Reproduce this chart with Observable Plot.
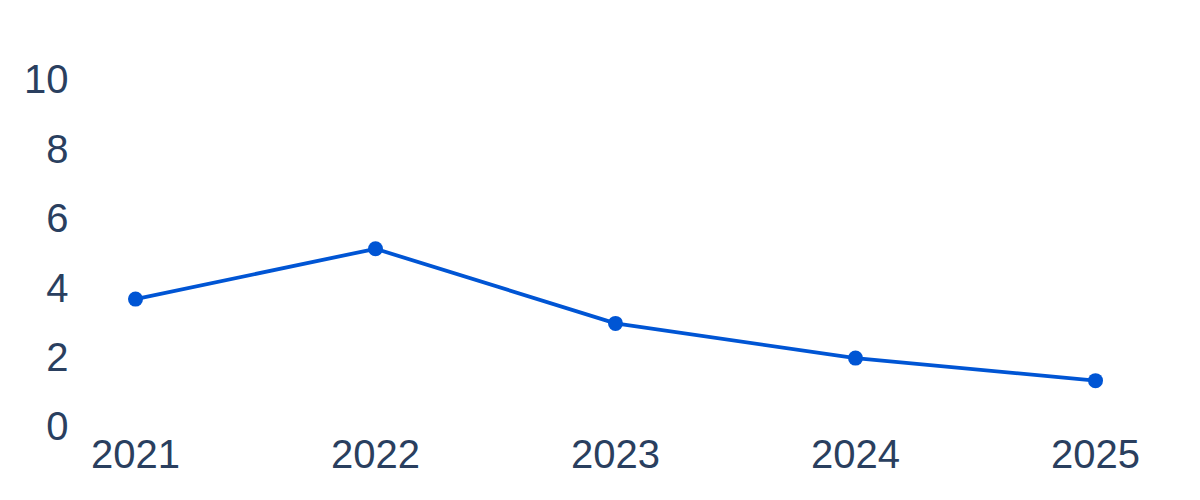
<!DOCTYPE html>
<html>
<head>
<meta charset="utf-8">
<script src="https://cdn.jsdelivr.net/npm/d3@7"></script>
<script src="https://cdn.jsdelivr.net/npm/@observablehq/plot@0.6"></script>
<style>
  html, body { margin: 0; padding: 0; background: #fff; }
</style>
</head>
<body>
<div id="chart"></div>
<script>
const years = ["2021", "2022", "2023", "2024", "2025"];
const values = [3.7, 5.15, 3.0, 2.0, 1.35];
const yTicks = [0, 2, 4, 6, 8, 10];

const data = years.map((year, i) => ({year, value: values[i]}));

const chart = Plot.plot({
  width: 1200,
  height: 500,
  marginLeft: 134,
  marginRight: 105,
  marginTop: 80,
  marginBottom: 73,
  style: {fontFamily: "'Liberation Sans', Arial, sans-serif", fontSize: "40px", color: "#2a3f5f", background: "#fff"},
  x: {type: "point", domain: years, padding: 0, label: null},
  y: {domain: [0, 10], label: null},
  marks: [
    Plot.axisY({ticks: yTicks, tickSize: 0, tickPadding: 66, label: null, fontSize: 40, fill: "#2a3f5f"}),
    Plot.axisX({tickSize: 0, tickPadding: 12, label: null, fontSize: 40, fill: "#2a3f5f"}),
    Plot.line(data, {x: "year", y: "value", stroke: "#0055d4", strokeWidth: 3.8}),
    Plot.dot(data, {x: "year", y: "value", fill: "#0055d4", r: 7.5, stroke: null})
  ]
});
document.getElementById("chart").appendChild(chart);
</script>
</body>
</html>
